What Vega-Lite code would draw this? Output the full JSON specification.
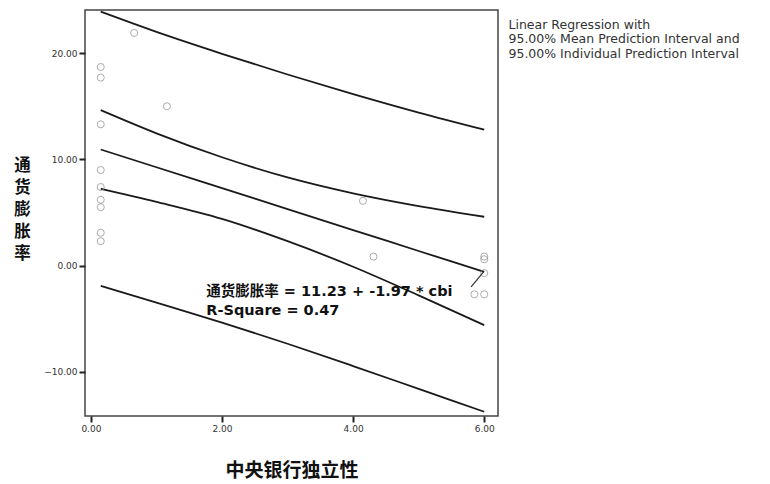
{
  "$schema": "https://vega.github.io/schema/vega-lite/v6.json",
  "autosize": {"type": "none"},
  "padding": {"left": 85, "top": 10, "right": 272, "bottom": 68},
  "width": 413,
  "height": 406,
  "background": "white",
  "config": {
    "view": {"stroke": "#444", "strokeWidth": 1.5},
    "axis": {
      "labelFont": "DejaVu Sans", "labelFontSize": 9, "labelColor": "#333",
      "tickColor": "#222", "tickWidth": 2, "tickSize": 6,
      "domain": false, "grid": false,
      "titleFont": "Noto Sans CJK SC", "titleFontWeight": "bold", "titleColor": "#111"
    }
  },
  "datasets": {
    "pts": [
      {"cbi": 0.66, "infl": 21.9}, {"cbi": 0.15, "infl": 18.7}, {"cbi": 0.15, "infl": 17.7},
      {"cbi": 1.16, "infl": 15.0}, {"cbi": 0.15, "infl": 13.3}, {"cbi": 0.15, "infl": 9.0},
      {"cbi": 0.15, "infl": 7.4}, {"cbi": 0.15, "infl": 6.2}, {"cbi": 0.15, "infl": 5.5},
      {"cbi": 0.15, "infl": 3.1}, {"cbi": 0.15, "infl": 2.3}, {"cbi": 4.15, "infl": 6.1},
      {"cbi": 4.31, "infl": 0.85}, {"cbi": 6.0, "infl": 0.85}, {"cbi": 6.0, "infl": 0.6},
      {"cbi": 6.0, "infl": -0.7}, {"cbi": 6.0, "infl": -2.7}, {"cbi": 5.85, "infl": -2.7}
    ],
    "bands": [
      {"band": "fit", "cbi": 0.15, "v": 10.93}, {"band": "fit", "cbi": 1, "v": 9.26}, {"band": "fit", "cbi": 2, "v": 7.29}, {"band": "fit", "cbi": 3, "v": 5.32}, {"band": "fit", "cbi": 4, "v": 3.35}, {"band": "fit", "cbi": 5, "v": 1.38}, {"band": "fit", "cbi": 6, "v": -0.59},
      {"band": "mlo", "cbi": 0.15, "v": 7.23}, {"band": "mlo", "cbi": 1, "v": 6.0}, {"band": "mlo", "cbi": 2, "v": 4.4}, {"band": "mlo", "cbi": 3, "v": 2.3}, {"band": "mlo", "cbi": 4, "v": -0.1}, {"band": "mlo", "cbi": 5, "v": -2.8}, {"band": "mlo", "cbi": 6, "v": -5.6},
      {"band": "mhi", "cbi": 0.15, "v": 14.63}, {"band": "mhi", "cbi": 1, "v": 12.45}, {"band": "mhi", "cbi": 2, "v": 10.2}, {"band": "mhi", "cbi": 3, "v": 8.3}, {"band": "mhi", "cbi": 4, "v": 6.8}, {"band": "mhi", "cbi": 5, "v": 5.6}, {"band": "mhi", "cbi": 6, "v": 4.6},
      {"band": "plo", "cbi": 0.15, "v": -1.9}, {"band": "plo", "cbi": 1, "v": -3.48}, {"band": "plo", "cbi": 2, "v": -5.36}, {"band": "plo", "cbi": 3, "v": -7.35}, {"band": "plo", "cbi": 4, "v": -9.45}, {"band": "plo", "cbi": 5, "v": -11.6}, {"band": "plo", "cbi": 6, "v": -13.75},
      {"band": "phi", "cbi": 0.15, "v": 23.9}, {"band": "phi", "cbi": 1, "v": 22.0}, {"band": "phi", "cbi": 2, "v": 19.94}, {"band": "phi", "cbi": 3, "v": 17.99}, {"band": "phi", "cbi": 4, "v": 16.15}, {"band": "phi", "cbi": 5, "v": 14.41}, {"band": "phi", "cbi": 6, "v": 12.8}
    ],
    "legendText": [
      {"t": "Linear Regression with", "tx": 6.37, "ty": 22.65},
      {"t": "95.00% Mean Prediction Interval and", "tx": 6.37, "ty": 21.3},
      {"t": "95.00% Individual Prediction Interval", "tx": 6.37, "ty": 19.95}
    ],
    "eq": [
      {"t": "通货膨胀率 = 11.23 + -1.97 * cbi", "tx": 1.76, "ty": -2.47},
      {"t": "R-Square = 0.47", "tx": 1.76, "ty": -4.26}
    ],
    "leader": [
      {"x1": 5.8, "y1": -2.0, "x2": 5.99, "y2": -0.59}
    ]
  },
  "layer": [
    {
      "data": {"name": "bands"},
      "mark": {"type": "line", "color": "#1a1a1a", "strokeWidth": 1.8, "interpolate": "monotone"},
      "encoding": {
        "x": {"field": "cbi", "type": "quantitative", "scale": {"domain": [-0.09, 6.21], "nice": false, "zero": false},
              "axis": {"values": [0, 2, 4, 6], "format": ".2f", "title": "中央银行独立性", "titleFontSize": 19, "titleY": 54, "titleBaseline": "middle"}},
        "y": {"field": "v", "type": "quantitative", "scale": {"domain": [-14.15, 24.06], "nice": false, "zero": false},
              "axis": {"values": [-10, 0, 10, 20], "format": ".2f", "title": ["通", "货", "膨", "胀", "率"], "titleAngle": 0, "titleFontSize": 16.5, "titleLineHeight": 22, "titleX": -63, "titleY": 155, "titleAlign": "center", "titleBaseline": "middle"}},
        "detail": {"field": "band"}
      }
    },
    {
      "data": {"name": "pts"},
      "mark": {"type": "point", "shape": "circle", "filled": false, "color": "#8a8a8a", "strokeWidth": 1, "size": 50},
      "encoding": {
        "x": {"field": "cbi", "type": "quantitative"},
        "y": {"field": "infl", "type": "quantitative"}
      }
    },
    {
      "data": {"name": "leader"},
      "mark": {"type": "rule", "color": "#333", "strokeWidth": 1.2},
      "encoding": {
        "x": {"field": "x1", "type": "quantitative"},
        "y": {"field": "y1", "type": "quantitative"},
        "x2": {"field": "x2"},
        "y2": {"field": "y2"}
      }
    },
    {
      "data": {"name": "eq"},
      "mark": {"type": "text", "align": "left", "baseline": "middle", "font": "DejaVu Sans, Noto Sans CJK SC", "fontWeight": "bold", "fontSize": 14.5, "color": "#111"},
      "encoding": {
        "x": {"field": "tx", "type": "quantitative"},
        "y": {"field": "ty", "type": "quantitative"},
        "text": {"field": "t"}
      }
    },
    {
      "data": {"name": "legendText"},
      "mark": {"type": "text", "align": "left", "baseline": "middle", "font": "DejaVu Sans", "fontSize": 12.5, "color": "#333"},
      "encoding": {
        "x": {"field": "tx", "type": "quantitative"},
        "y": {"field": "ty", "type": "quantitative"},
        "text": {"field": "t"}
      }
    }
  ]
}
